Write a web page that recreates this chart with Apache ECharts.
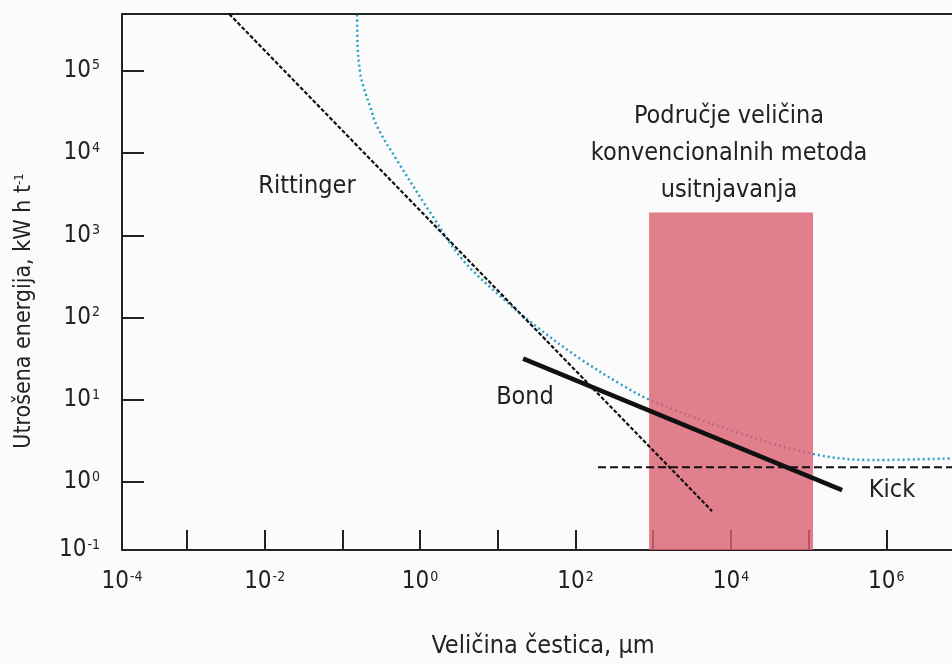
<!DOCTYPE html>
<html>
<head>
<meta charset="utf-8">
<script src="https://cdn.jsdelivr.net/npm/echarts@6/dist/echarts.min.js"></script>
<style>
  html, body { margin: 0; padding: 0; background: #fbfbfc; }
  #chart { width: 952px; height: 664px; }
</style>
</head>
<body>
<div id="chart"></div>
<script>
  // granice osi (µm i kWh/t)
  const xMin = 1.46e-4, xMax = 7.0e6;
  const yMin = 0.15, yMax = 4.9e5;

  const xTickValues = [1e-3, 1e-2, 1e-1, 1e0, 1e1, 1e2, 1e3, 1e4, 1e5, 1e6];
  const xLabelValues = [xMin * 1.001, 1e-2, 1e0, 1e2, 1e4, 1e6];
  const yTickValues = [1e0, 1e1, 1e2, 1e3, 1e4, 1e5];
  const yLabelValues = [yMin * 1.001, 1e0, 1e1, 1e2, 1e3, 1e4, 1e5];

  // Rittinger, Bond, Kick
  const rittingerSize = [0.0035, 5730];
  const rittingerEnergy = [4.9e5, 0.445];
  const bondSize = [21.2, 2.7e5];
  const bondEnergy = [31.8, 0.8];
  const kickSize = [195, 7.0e6];
  const kickEnergy = [1.52, 1.52];

  // plava krivulja
  const curveSize = [0.155, 0.157, 0.168, 0.186, 0.229, 0.28, 0.50, 1.35, 3.5, 11.7, 35, 115, 370, 910, 9800, 1.15e5, 6.8e5, 7.1e6];
  const curveEnergy = [4.8e5, 2.0e5, 1.0e5, 6.5e4, 3.6e4, 2.1e4, 8300, 1900, 510, 170, 72, 31.6, 15.8, 10, 4.3, 2.2, 1.86, 1.95];

  // područje konvencionalnih metoda
  const regionSize = [885, 1.14e5];
  const regionTop = 1900;

  const FONT = "'Liberation Sans Narrow', 'DejaVu Sans Condensed', 'Roboto Condensed', 'Liberation Sans', sans-serif";
  const INK = '#222';

  function pairs(xs, ys) {
    return xs.map((x, i) => [x, ys[i]]);
  }

  function powLabel(v) {
    const e = Math.round(Math.log10(v));
    return '{b|10}{s|' + e + '}';
  }

  const labelRich = {
    b: { fontFamily: FONT, fontSize: 24, color: INK },
    s: { fontFamily: FONT, fontSize: 14, color: INK, verticalAlign: 'top', padding: [0, 0, 0, 1] }
  };

  const chart = echarts.init(document.getElementById('chart'));

  chart.setOption({
    animation: false,
    backgroundColor: '#fbfbfc',
    grid: { left: 122, right: 0, top: 14, bottom: 112 },
    xAxis: [{
      type: 'log',
      logBase: 10,
      min: xMin,
      max: xMax,
      name: 'Veličina čestica, µm',
      nameLocation: 'middle',
      nameGap: 84,
      nameTextStyle: { fontFamily: FONT, fontSize: 25, color: INK, padding: [0, 0, 0, 12] },
      axisLine: { onZero: false, lineStyle: { color: INK, width: 2 } },
      axisTick: { inside: true, length: 20, lineStyle: { color: INK, width: 2 }, customValues: xTickValues },
      axisLabel: { margin: 20, formatter: powLabel, rich: labelRich, customValues: xLabelValues },
      splitLine: { show: false }
    }, {
      type: 'log',
      logBase: 10,
      min: xMin,
      max: xMax,
      position: 'top',
      axisLine: { onZero: false, lineStyle: { color: INK, width: 2 } },
      axisTick: { show: false },
      axisLabel: { show: false },
      splitLine: { show: false }
    }],
    yAxis: {
      type: 'log',
      logBase: 10,
      min: yMin,
      max: yMax,
      name: '{n|Utrošena energija, kW h t}{s|-1}',
      nameLocation: 'middle',
      nameGap: 86,
      nameTextStyle: {
        padding: [0, 58, 0, 0],
        rich: {
          n: { fontFamily: FONT, fontSize: 23, color: INK },
          s: { fontFamily: FONT, fontSize: 13, color: INK, verticalAlign: 'top' }
        }
      },
      axisLine: { onZero: false, lineStyle: { color: INK, width: 2 } },
      axisTick: { inside: true, length: 22, lineStyle: { color: INK, width: 2 }, customValues: yTickValues },
      axisLabel: { margin: 22, formatter: powLabel, rich: labelRich, customValues: yLabelValues },
      splitLine: { show: false }
    },
    series: [
      {
        name: 'krivulja',
        type: 'line',
        z: 1,
        data: pairs(curveSize, curveEnergy),
        smooth: 0.35,
        showSymbol: false,
        lineStyle: { color: '#2a9fc6', width: 2.5, type: [2, 3] }
      },
      {
        name: 'područje',
        type: 'custom',
        z: 2,
        silent: true,
        data: [[regionSize[0], regionSize[1], regionTop]],
        encode: { x: [0, 1], y: 2 },
        renderItem: function (params, api) {
          const p1 = api.coord([api.value(0), api.value(2)]);
          const p2 = api.coord([api.value(1), yMin]);
          return {
            type: 'rect',
            shape: { x: p1[0], y: p1[1], width: p2[0] - p1[0], height: p2[1] - p1[1] },
            style: { fill: '#db606f', opacity: 0.8 }
          };
        }
      },
      {
        name: 'Rittinger',
        type: 'line',
        z: 3,
        data: pairs(rittingerSize, rittingerEnergy),
        showSymbol: false,
        lineStyle: { color: '#111', width: 2.2, type: [4, 2] }
      },
      {
        name: 'Kick',
        type: 'line',
        z: 3,
        data: pairs(kickSize, kickEnergy),
        showSymbol: false,
        lineStyle: { color: '#111', width: 2, type: [8, 4] }
      },
      {
        name: 'Bond',
        type: 'line',
        z: 4,
        data: pairs(bondSize, bondEnergy),
        showSymbol: false,
        lineStyle: { color: '#111', width: 4.5 }
      }
    ],
    graphic: [
      { type: 'text', x: 307, y: 186, style: { text: 'Rittinger', font: '25px ' + FONT, fill: INK, align: 'center', verticalAlign: 'middle' } },
      { type: 'text', x: 525, y: 397, style: { text: 'Bond', font: '25px ' + FONT, fill: INK, align: 'center', verticalAlign: 'middle' } },
      { type: 'text', x: 892, y: 490, style: { text: 'Kick', font: '25px ' + FONT, fill: INK, align: 'center', verticalAlign: 'middle' } },
      {
        type: 'text', x: 729, y: 153,
        style: {
          text: 'Područje veličina\nkonvencionalnih metoda\nusitnjavanja',
          font: '25px ' + FONT, fill: INK, align: 'center', verticalAlign: 'middle', lineHeight: 37
        }
      }
    ]
  });
</script>
</body>
</html>
